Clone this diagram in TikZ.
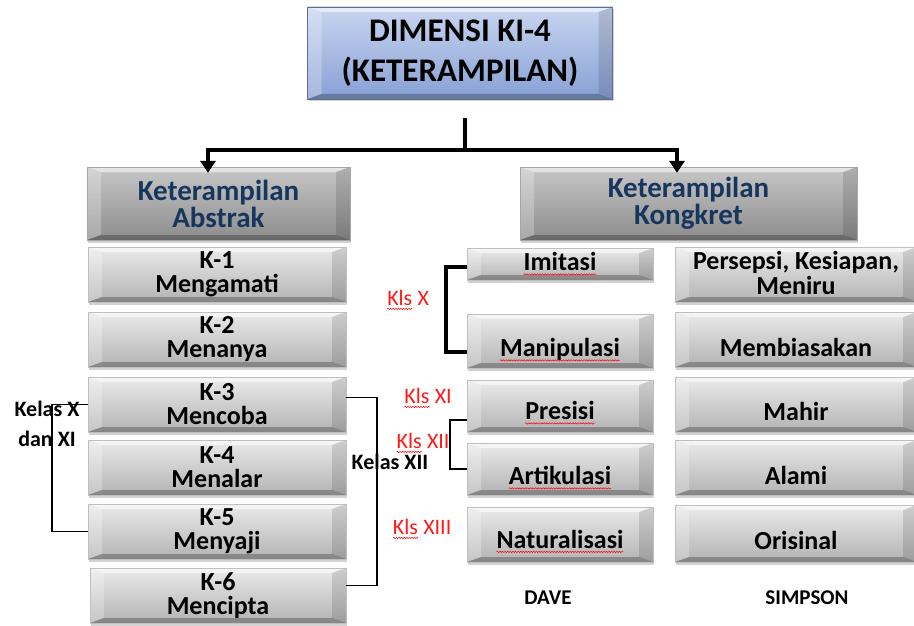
\documentclass[tikz,border=0pt]{standalone}
\usepackage{fontspec}
\setmainfont{Carlito}
\usetikzlibrary{shadows,arrows.meta,decorations.pathmorphing}
\definecolor{navy}{HTML}{17365D}
\definecolor{blueT}{RGB}{200,213,240}
\definecolor{blueB}{RGB}{135,160,212}
\definecolor{lblred}{HTML}{FF1A1A}
\newcommand\sqig[1]{\tikz[baseline=(sq.base)]{\node[inner sep=0pt,outer sep=0pt,anchor=base] (sq) {#1};\draw[red,line width=0.5pt,decorate,decoration={snake,amplitude=0.7pt,segment length=2.6pt}] ([yshift=-3.5pt]sq.base west) -- ([yshift=-3.5pt]sq.base east);}}
\tikzset{
  bevel/.style={path picture={
    \path (path picture bounding box.north west) coordinate (pnw)
          (path picture bounding box.north east) coordinate (pne)
          (path picture bounding box.south west) coordinate (psw)
          (path picture bounding box.south east) coordinate (pse);
    \fill[white,opacity=.55] (pnw) -- (pne) -- ([xshift=-14pt,yshift=-5pt]pne) -- ([xshift=14pt,yshift=-5pt]pnw) -- cycle;
    \fill[white,opacity=.25] (pnw) -- ([xshift=14pt,yshift=-5pt]pnw) -- ([xshift=14pt,yshift=5pt]psw) -- (psw) -- cycle;
    \fill[black,opacity=.12] (pne) -- ([xshift=-14pt,yshift=-5pt]pne) -- ([xshift=-14pt,yshift=5pt]pse) -- (pse) -- cycle;
    \fill[black,opacity=.25] (psw) -- ([xshift=14pt,yshift=5pt]psw) -- ([xshift=-14pt,yshift=5pt]pse) -- (pse) -- cycle;
  }},
  basebox/.style={rectangle, inner sep=1pt, align=center, bevel,
    drop shadow={shadow xshift=1pt,shadow yshift=-2.5pt,opacity=.35}},
  gbox/.style={basebox, draw=black!25, line width=0.3pt, top color=black!8, bottom color=black!30,
    font=\fontsize{26}{24}\selectfont\bfseries},
  dbox/.style={basebox, draw=black!35, line width=0.3pt, top color=black!22, bottom color=black!45,
    text=navy, font=\fontsize{29}{27}\selectfont\bfseries},
  bbox/.style={basebox, draw=blueB!70!black, line width=0.3pt, top color=blueT, bottom color=blueB,
    font=\fontsize{33}{40}\selectfont\bfseries},
  txt/.style={inner sep=0pt, align=center, font=\fontsize{26}{23}\selectfont\bfseries},
  lbl/.style={inner sep=0pt, align=center, font=\fontsize{22}{30}\selectfont\bfseries},
  rlbl/.style={inner sep=0pt, text=lblred, font=\fontsize{22}{26}\selectfont},
  fnt/.style={inner sep=0pt, font=\fontsize{21}{24}\selectfont\bfseries},
  heavy/.style={line width=4pt},
  thinln/.style={line width=1.6pt},
}
\begin{document}
\begin{tikzpicture}[x=1pt,y=-1pt]
\fill[white] (0,0) rectangle (914,626);
\useasboundingbox (0,0) rectangle (914,626);

% top
\node[bbox, minimum width=305pt, minimum height=92pt] (top) at (460,53) {DIMENSI KI-4\\(KETERAMPILAN)};

% second level
\node[dbox, minimum width=263pt, minimum height=73pt] (abs) at (218.5,203.5) {Keterampilan\\Abstrak};
\node[dbox, minimum width=337pt, minimum height=73pt] (kon) at (688.5,203.5) {Keterampilan\\Kongkret};

% left column
\node[gbox, minimum width=258pt, minimum height=55pt] (k1) at (217,274.5) {K-1\\Mengamati};
\node[gbox, minimum width=258pt, minimum height=55pt] (k2) at (217,339.5) {K-2\\Menanya};
\node[gbox, minimum width=258pt, minimum height=55pt] (k3) at (217,404.5) {K-3\\Mencoba};
\node[gbox, minimum width=258pt, minimum height=55pt] (k4) at (217,467.5) {K-4\\Menalar};
\node[gbox, minimum width=258pt, minimum height=55pt] (k5) at (217,531.5) {K-5\\Menyaji};
\node[gbox, minimum width=256pt, minimum height=55pt] (k6) at (218,595.5) {K-6\\Mencipta};

% middle column (DAVE)
\node[gbox, minimum width=186pt, minimum height=32pt] (imit) at (560,264) {};
\node[gbox, minimum width=186pt, minimum height=54pt] (mani) at (560,341) {};
\node[gbox, minimum width=186pt, minimum height=52pt] (pres) at (560,406) {};
\node[gbox, minimum width=186pt, minimum height=52pt] (arti) at (560,469) {};
\node[gbox, minimum width=186pt, minimum height=55pt] (natu) at (560,534.5) {};
\node[txt] (timit) at (imit.center) {\sqig{Imitasi}};
\node[txt, yshift=-9pt] (tmani) at (mani.center) {\sqig{Manipulasi}};
\node[txt, yshift=-7pt] (tpres) at (pres.center) {\sqig{Presisi}};
\node[txt, yshift=-9pt] (tarti) at (arti.center) {\sqig{Artikulasi}};
\node[txt, yshift=-7pt] (tnatu) at (natu.center) {\sqig{Naturalisasi}};

% right column (SIMPSON)
\node[gbox, minimum width=242pt, minimum height=55pt] (pers) at (796,274.5) {};
\node[gbox, minimum width=242pt, minimum height=55pt] (memb) at (796,339.5) {};
\node[gbox, minimum width=242pt, minimum height=55pt] (mahi) at (796,404.5) {};
\node[gbox, minimum width=242pt, minimum height=55pt] (alam) at (796,467.5) {};
\node[gbox, minimum width=242pt, minimum height=57pt] (oris) at (796,533.5) {};
\node[txt, yshift=2pt, font=\fontsize{26}{25}\selectfont\bfseries] (tpers) at (pers.center) {Persepsi, Kesiapan,\\Meniru};
\node[txt, yshift=-8pt] (tmemb) at (memb.center) {Membiasakan};
\node[txt, yshift=-7pt] (tmahi) at (mahi.center) {Mahir};
\node[txt, yshift=-8pt] (talam) at (alam.center) {Alami};
\node[txt, yshift=-7pt] (toris) at (oris.center) {Orisinal};

% labels
\node[lbl] (kx) at (47,424) {Kelas X\\dan XI};
\node[lbl] (kxii) at (390,462) {Kelas XII};
\node[rlbl] (lx) at (408,300) {\sqig{Kls} X};
\node[rlbl] (lxi) at (428,398) {\sqig{Kls} XI};
\node[rlbl] (lxii) at (423,443) {\sqig{Kls} XII};
\node[rlbl] (lxiii) at (422,529) {\sqig{Kls} XIII};
\node[fnt] (dave) at (548,598) {DAVE};
\node[fnt] (simp) at (807,598) {SIMPSON};

% connectors
\coordinate (stem) at (465,118);
\coordinate (junc) at (465,150);
\draw[heavy] (stem) -- (junc);
\draw[heavy, -{Triangle[width=15pt,length=12pt]}] (junc) -| ([xshift=-10.5pt,yshift=-6pt]abs.north);
\draw[heavy, -{Triangle[width=15pt,length=12pt]}] (junc) -| ([xshift=-11.5pt,yshift=-6pt]kon.north);

\draw[thinln] (k3.west) -- ++(-36,0) |- (k5.west);
\draw[thinln] ([yshift=7pt]k3.east) -- ++(31,0) |- ([yshift=10pt]k6.east);
\draw[line width=3.5pt] ([yshift=-3pt]imit.west) -- ++(-21,0) |- ([yshift=-11pt]mani.west);
\draw[line width=2.5pt] ([yshift=-14pt]pres.west) -- ++(-17,0) |- ([yshift=0pt]arti.west);
\end{tikzpicture}
\end{document}
